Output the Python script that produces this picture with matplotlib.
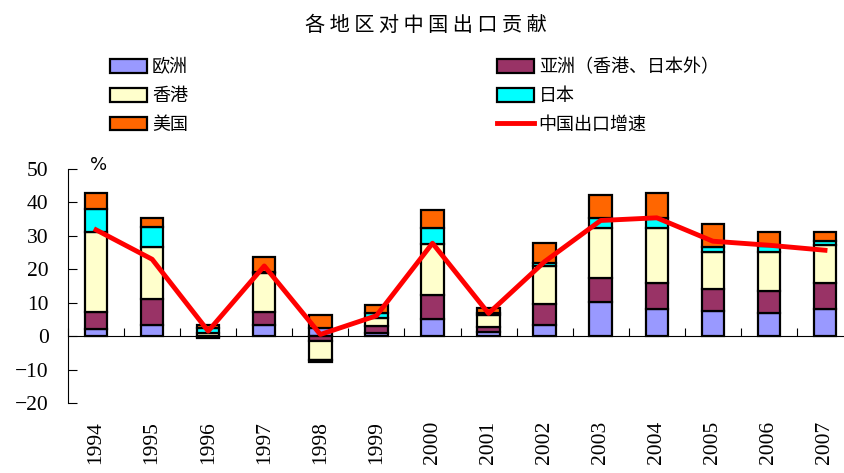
import numpy as np
import matplotlib.pyplot as plt

plt.rcParams['font.family'] = ['Noto Sans CJK SC', 'DejaVu Sans']

# data (percentage points)
years = ['1994', '1995', '1996', '1997', '1998', '1999', '2000',
         '2001', '2002', '2003', '2004', '2005', '2006', '2007']
europe = [2.0, 3.4, -0.4, 3.3, 2.5, 1.0, 5.0, 1.3, 3.3, 10.3, 8.0, 7.5, 6.8, 8.0]
asia = [5.1, 7.6, -0.3, 3.8, -1.5, 1.9, 7.3, 1.5, 6.2, 7.0, 8.0, 6.5, 6.7, 7.9]
hongkong = [24.1, 15.7, 0.9, 11.7, -5.5, 2.6, 15.4, 3.4, 11.5, 15.0, 16.3, 11.3, 11.7, 11.5]
japan = [6.7, 6.0, 1.5, 0.3, -0.8, 1.3, 4.7, 0.8, 0.8, 3.0, 3.0, 1.5, 1.9, 1.2]
usa = [4.8, 2.7, 1.0, 4.5, 3.8, 2.4, 5.3, 1.5, 6.2, 7.0, 7.4, 6.7, 4.1, 2.6]
export_growth = [31.8, 23.0, 1.5, 21.0, 0.5, 6.1, 27.8, 6.8, 22.3, 34.6, 35.4, 28.4, 27.2, 25.7]

series = [
    ('欧洲', europe, '#9999FF'),
    ('亚洲（香港、日本外）', asia, '#993366'),
    ('香港', hongkong, '#FFFFCC'),
    ('日本', japan, '#00FFFF'),
    ('美国', usa, '#FF6600'),
]

num_font = 'Liberation Serif'

fig = plt.figure(figsize=(8.45, 4.73), dpi=100)
ax = fig.add_axes([0.0805, 0.148, 0.929, 0.4947])

x = np.arange(len(years))
pos_base = np.zeros(len(years))
neg_base = np.zeros(len(years))
handles = {}
for name, vals, color in series:
    v = np.array(vals)
    bottom = np.where(v >= 0, pos_base, neg_base)
    b = ax.bar(x, v, width=0.4, bottom=bottom, color=color,
               edgecolor='black', linewidth=1.6, zorder=2)
    handles[name] = b
    pos_base = pos_base + np.where(v >= 0, v, 0)
    neg_base = neg_base + np.where(v < 0, v, 0)

line, = ax.plot(x, export_growth, color='#FF0000', linewidth=3.5, zorder=3)

ax.set_xlim(-0.5, 13.5)
ax.set_ylim(-20, 50)
ax.set_yticks(range(-20, 51, 10))
ax.tick_params(axis='y', direction='in', length=6.5, pad=14)
for t in ax.get_yticklabels():
    t.set_fontfamily(num_font)
    t.set_fontsize(15.5)

# category axis crosses at zero
ax.spines['bottom'].set_position(('data', 0))
ax.spines['top'].set_visible(False)
ax.spines['right'].set_visible(False)
ax.set_xticks(np.arange(-0.5, 14, 1))
ax.set_xticklabels([])
ax.tick_params(axis='x', direction='in', length=6)

sec = ax.secondary_xaxis(0.0)
sec.set_xticks(x)
sec.set_xticklabels(years, rotation=90, fontsize=15.5, fontfamily=num_font)
sec.tick_params(length=0, pad=13)
sec.spines['bottom'].set_visible(False)

ax.text(0.028, 1.017, '%', transform=ax.transAxes, fontsize=13,
        fontfamily='DejaVu Sans', ha='left', va='center')

fig.text(0.504, 0.947, ' '.join('各地区对中国出口贡献'), ha='center', va='center',
         fontsize=14.5)

order = ['欧洲', '香港', '美国', '亚洲（香港、日本外）', '日本']
hs = [handles[n] for n in order] + [line]
labels = order + ['中国出口增速']
fig.legend(hs, labels, loc='upper left', bbox_to_anchor=(0.13, 0.877),
           ncol=2, frameon=False, fontsize=13, borderaxespad=0, borderpad=0,
           handlelength=2.05, handleheight=0.78, handletextpad=0.28,
           labelspacing=0.6, columnspacing=17.1)

fig.savefig('out.png', dpi=100)
